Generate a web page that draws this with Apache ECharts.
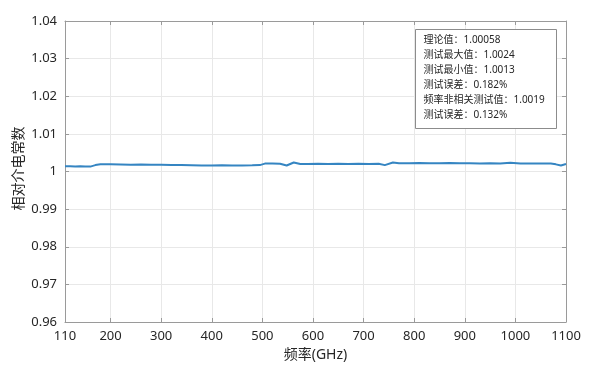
<!DOCTYPE html>
<html>
<head>
<meta charset="utf-8">
<script src="https://cdn.jsdelivr.net/npm/echarts@6/dist/echarts.min.js"></script>
<style>html,body{margin:0;padding:0;background:#fff;}#c{width:592px;height:378px;}</style>
</head>
<body>
<div id="c"></div>
<script>
var freq = [110,120,130,140,150,160,170,180,200,220,240,260,280,300,320,340,360,380,400,420,440,460,480,495,505,520,535,548,562,575,590,610,630,650,670,690,710,730,742,758,770,790,810,830,850,870,890,910,930,950,970,990,1010,1030,1050,1070,1080,1090,1100];
var epsVals = [1.0014,1.0014,1.00135,1.0014,1.00135,1.0013,1.0017,1.0019,1.0019,1.00185,1.0018,1.00185,1.0018,1.0018,1.00175,1.0017,1.00165,1.0016,1.0016,1.00165,1.0016,1.0016,1.00165,1.0017,1.0021,1.0021,1.00205,1.0016,1.0024,1.0020,1.0020,1.00205,1.0020,1.00205,1.0020,1.00205,1.0020,1.00205,1.0017,1.0024,1.0022,1.0022,1.00225,1.0022,1.0022,1.00225,1.0022,1.0022,1.00215,1.0022,1.00215,1.0023,1.0021,1.0021,1.00215,1.0021,1.0019,1.0016,1.0020];
var xTicks = [110,200,300,400,500,600,700,800,900,1000,1100];
var infoLines = ['理论值：1.00058','测试最大值：1.0024','测试最小值：1.0013','测试误差：0.182%','频率非相关测试值：1.0019','测试误差：0.132%'];
var xName = '频率(GHz)';
var yName = '相对介电常数';

var FONT = '"Noto Sans", "Noto Sans CJK SC", sans-serif';
var chart = echarts.init(document.getElementById('c'), null, {renderer: 'canvas'});
var data = freq.map(function (f, i) { return [f, epsVals[i]]; });
var frameColor = '#9a9a9a';
chart.setOption({
  animation: false,
  backgroundColor: '#fff',
  grid: {left: 65, right: 26, top: 21, bottom: 56, containLabel: false},
  xAxis: [{
    type: 'value', min: 110, max: 1100,
    name: xName, nameLocation: 'middle', nameGap: 23,
    nameTextStyle: {fontFamily: FONT, fontSize: 14, color: '#262626'},
    axisLine: {show: true, onZero: false, lineStyle: {color: frameColor, width: 1}},
    axisTick: {show: true, inside: true, length: 4, customValues: xTicks, lineStyle: {color: frameColor}},
    axisLabel: {customValues: xTicks, fontFamily: FONT, fontSize: 13, color: '#262626', margin: 8,
      formatter: function (v) { return String(v); }},
    splitLine: {show: true, lineStyle: {color: '#e8e8e8', width: 1}}
  }, {
    type: 'value', min: 110, max: 1100, position: 'top',
    axisLine: {show: true, onZero: false, lineStyle: {color: frameColor, width: 1}},
    axisTick: {show: true, inside: true, length: 4, customValues: xTicks, lineStyle: {color: frameColor}},
    axisLabel: {show: false},
    splitLine: {show: false}
  }],
  yAxis: [{
    type: 'value', min: 0.96, max: 1.04, interval: 0.01,
    name: yName, nameLocation: 'middle', nameGap: 39, nameMoveOverlap: false,
    nameTextStyle: {fontFamily: FONT, fontSize: 14, color: '#262626', padding: [0, 0, 0, 6]},
    axisLine: {show: true, onZero: false, lineStyle: {color: frameColor, width: 1}},
    axisTick: {show: true, inside: true, length: 4, lineStyle: {color: frameColor}},
    axisLabel: {fontFamily: FONT, fontSize: 13, color: '#262626', margin: 8,
      formatter: function (v) { return String(parseFloat(v.toFixed(2))); }},
    splitLine: {show: true, lineStyle: {color: '#e8e8e8', width: 1}}
  }, {
    type: 'value', min: 0.96, max: 1.04, interval: 0.01, position: 'right',
    axisLine: {show: true, onZero: false, lineStyle: {color: frameColor, width: 1}},
    axisTick: {show: true, inside: true, length: 4, lineStyle: {color: frameColor}},
    axisLabel: {show: false},
    splitLine: {show: false}
  }],
  series: [{
    type: 'line', data: data, xAxisIndex: 0, yAxisIndex: 0,
    showSymbol: false, symbol: 'none', smooth: false,
    lineStyle: {color: '#3585c2', width: 2}
  }],
  graphic: [{
    type: 'group', left: 415, top: 29, z: 100,
    children: [{
      type: 'rect', z: 100, shape: {x: 0, y: 0, width: 141, height: 99},
      style: {fill: '#ffffff', stroke: '#8c8c8c', lineWidth: 1}
    }].concat(infoLines.map(function (t, i) {
      return {type: 'text', z: 101, x: 8, y: 6 + i * 15,
        style: {text: t, fontFamily: FONT, fontSize: 10, fill: '#262626', textVerticalAlign: 'top'}};
    }))
  }]
});
</script>
</body>
</html>
